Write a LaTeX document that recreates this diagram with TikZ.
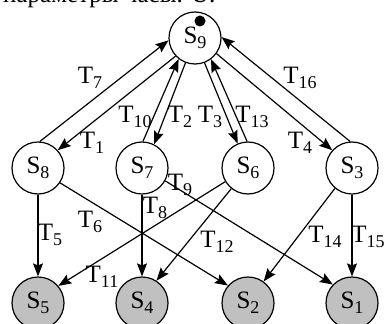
\documentclass[tikz,border=0pt]{standalone}
\usepackage{fontspec}
\setmainfont{Liberation Serif}
\usetikzlibrary{arrows.meta}
\definecolor{endgray}{RGB}{192,192,192}
\newcommand{\lblsub}[1]{\raisebox{-5pt}{\fontsize{18}{18}\selectfont #1}}
\begin{document}
\begin{tikzpicture}[x=1pt,y=-1pt,
  state/.style={circle,draw,line width=1.2pt,minimum size=52pt,inner sep=0pt,font=\fontsize{25}{25}\selectfont},
  final/.style={state,fill=endgray},
  arr/.style={line width=1.2pt,-{Stealth[length=13pt,width=10pt,inset=2pt]}},
  tl/.style={font=\fontsize{25}{25}\selectfont,inner sep=0pt}]
\useasboundingbox (0,0) rectangle (387,323);
\clip (0,0) rectangle (387,323);
% clipped caption at the top
\node[tl,anchor=base west] (cap) at (3,2.5) {параметры часы. U.};
% states
\node[state] (s9) at (195,38) {S\lblsub{9}};
\fill (200,21) circle (5.5);
\node[state] (s8) at (38,168) {S\lblsub{8}};
\node[state] (s7) at (142,168) {S\lblsub{7}};
\node[state] (s6) at (248,168) {S\lblsub{6}};
\node[state] (s3) at (352,168) {S\lblsub{3}};
\node[final] (s5) at (38,303) {S\lblsub{5}};
\node[final] (s4) at (142,303) {S\lblsub{4}};
\node[final] (s2) at (248,303) {S\lblsub{2}};
\node[final] (s1) at (352,303) {S\lblsub{1}};
% upper connectors
\draw[arr] (s8.86) -- (s9.185);
\draw[arr] (s9.223) -- (s8.42);
\draw[arr] (s7.88) -- (s9.232);
\draw[arr] (s9.249) -- (s7.63);
\draw[arr] (s9.291) -- (s6.113);
\draw[arr] (s6.92) -- (s9.307);
\draw[arr] (s9.324) -- (s3.138);
\draw[arr] (s3.94) -- (s9.2);
% lower connectors
\draw[arr] (s8) -- (s5);
\draw[arr] (s8.326) -- (s2.139);
\draw[arr] (s7) -- (s4);
\draw[arr] (s7.331) -- (s1.136);
\draw[arr] (s6.211) -- (s5.40);
\draw[arr] (s6.231) -- (s4.57);
\draw[arr] (s3.230) -- (s2.54);
\draw[arr] (s3) -- (s1);
% labels
\node[tl] (t7) at (90,78) {T\lblsub{7}};
\node[tl] (t16) at (300,78) {T\lblsub{16}};
\node[tl] (t1) at (92,143) {T\lblsub{1}};
\node[tl] (t10) at (135,117) {T\lblsub{10}};
\node[tl] (t2) at (180,117) {T\lblsub{2}};
\node[tl] (t3) at (210,117) {T\lblsub{3}};
\node[tl] (t13) at (252,117) {T\lblsub{13}};
\node[tl] (t4) at (300,143) {T\lblsub{4}};
\node[tl] (t9) at (180,185) {T\lblsub{9}};
\node[tl] (t8) at (155,208) {T\lblsub{8}};
\node[tl] (t6) at (90,222) {T\lblsub{6}};
\node[tl] (t5) at (50,235) {T\lblsub{5}};
\node[tl] (t11) at (102,277) {T\lblsub{11}};
\node[tl] (t12) at (217,242) {T\lblsub{12}};
\node[tl] (t14) at (325,237) {T\lblsub{14}};
\node[tl] (t15) at (368,237) {T\lblsub{15}};
\end{tikzpicture}
\end{document}
